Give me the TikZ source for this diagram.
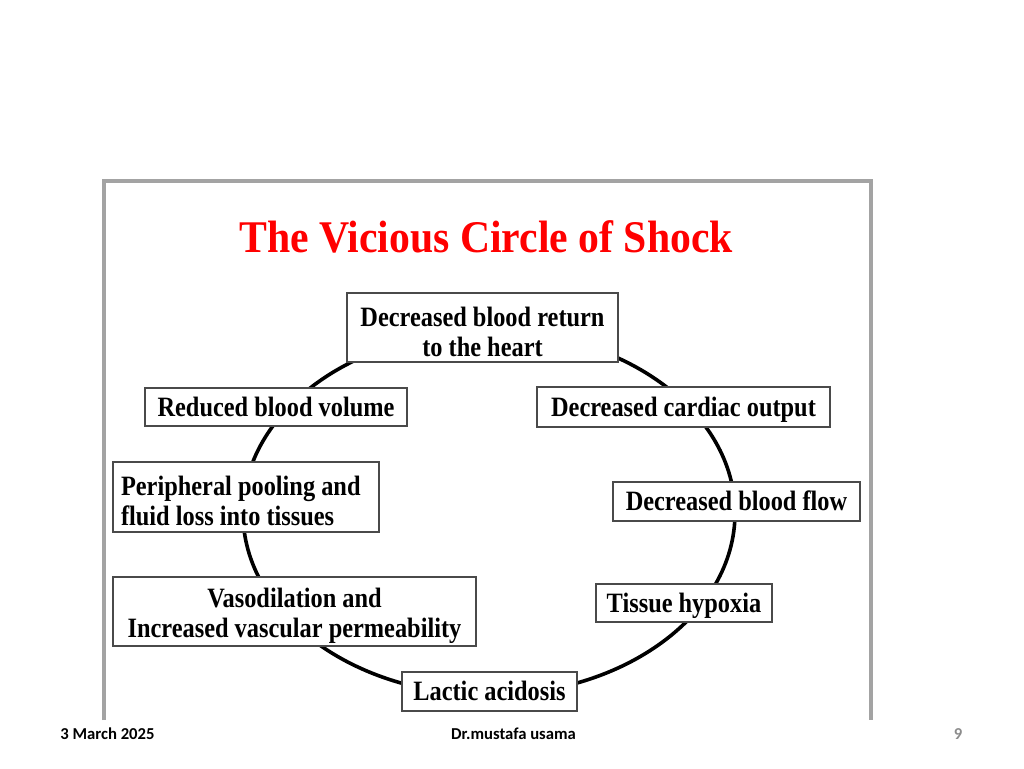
\documentclass[tikz,border=0pt]{standalone}
\usepackage{fontspec}
\usepackage{graphicx}
\setmainfont{Liberation Serif}
\newfontfamily\calib{Carlito}
\definecolor{framegray}{HTML}{A3A3A3}
\definecolor{boxline}{HTML}{4A4A4A}
\definecolor{pagegray}{HTML}{8C8C8C}
\definecolor{titlered}{HTML}{FF0000}
\newcommand\sqz[1]{\scalebox{0.87}[1]{#1}}
\newcommand\lowstrut{\rule{0pt}{20.5pt}}
\tikzset{
  box/.style 2 args={draw=boxline, line width=1.2pt, fill=white, inner sep=0pt,
    minimum width=#1*0.75pt, minimum height=#2*0.75pt,
    font=\fontsize{21}{22.5}\selectfont\bfseries, text=black},
  oneline/.style={text height=14pt, text depth=0pt},
  cycleline/.style={line width=2.7pt, black},
  framestyle/.style={draw=framegray, line width=2.4pt},
  foot/.style={font=\calib\bfseries\fontsize{12.5}{14}\selectfont}
}
\begin{document}
\begin{tikzpicture}[x=0.75pt,y=-0.75pt]
\useasboundingbox (0,0) rectangle (1024,768);
\fill[white] (0,0) rectangle (1024,768);
% frame
\draw[framestyle] (104,720) -- (104,181) -- (871,181) -- (871,720);
% title
\node[text=titlered, font=\fontsize{34}{38}\selectfont\bfseries] (title) at (486,237) {\scalebox{0.92}[1]{The Vicious Circle of Shock}};
% cycle
\draw[cycleline] (489,513) ellipse [x radius=246, y radius=182];
% boxes
\node[box={271}{69}, align=center] (ret) at (482.5,327.5) {\lowstrut\sqz{Decreased blood return}\\\sqz{to the heart}};
\node[box={262}{38}, oneline] (vol) at (276,407) {\sqz{Reduced blood volume}};
\node[box={293}{40}, oneline] (co) at (683.5,407) {\sqz{Decreased cardiac output}};
\node[box={266}{70}, align=flush left, text width=250*0.75pt] (pool) at (246,497) {\lowstrut\sqz{Peripheral pooling and}\\\sqz{fluid loss into tissues}};
\node[box={247}{39}, oneline] (flow) at (736.5,501.5) {\sqz{Decreased blood flow}};
\node[box={363}{69}, align=center] (vaso) at (294.5,611.5) {\lowstrut\sqz{Vasodilation and}\\\sqz{Increased vascular permeability}};
\node[box={176}{38}, oneline] (hyp) at (684,603) {\sqz{Tissue hypoxia}};
\node[box={175}{39}, oneline] (lac) at (489.5,691.5) {\sqz{Lactic acidosis}};
% footer
\node[foot, text=black] (date) at (107.5,734) {3 March 2025};
\node[foot, text=black] (author) at (513.5,734) {Dr.mustafa usama};
\node[foot, text=pagegray] (page) at (958,734) {9};
\end{tikzpicture}
\end{document}
